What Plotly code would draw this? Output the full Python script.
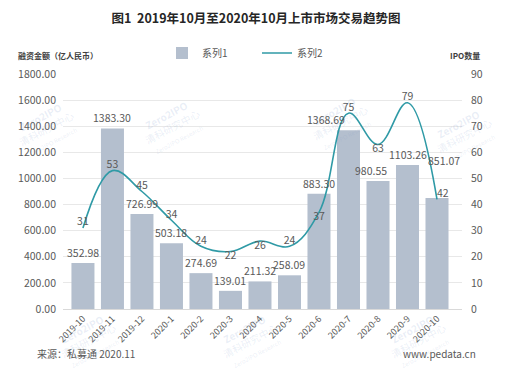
import plotly.graph_objects as go

categories = ["2019-10", "2019-11", "2019-12", "2020-1", "2020-2", "2020-3", "2020-4",
              "2020-5", "2020-6", "2020-7", "2020-8", "2020-9", "2020-10"]
amounts = [352.98, 1383.30, 726.99, 503.18, 274.69, 139.01, 211.32, 258.09,
           883.30, 1368.69, 980.55, 1103.26, 851.07]
ipo_counts = [31, 53, 45, 34, 24, 22, 26, 24, 37, 75, 63, 79, 42]

# label placement (style only)
line_label_pos = ["top center", "top center", "top center", "top center", "top center",
                  "bottom center", "bottom center", "top center", "bottom center",
                  "top center", "bottom center", "top center", "top right"]
bar_label_dx = [0, 0, 0, 0, 0, 0, 0, 0, 0, -22, -7, 0, 7]
bar_label_dy = [0, 0, 0, 0, 0, 0, 0, 0, 0, 0, 0, 0, 27]

FONT = "Noto Sans CJK SC, Noto Sans, sans-serif"
GRAY = "#595959"

# page body has an 8px default margin; lay the figure out in page pixel terms
OFF = 8
W, H = 509 - OFF, 375 - OFF
PL, PR, PT, PB = 63, 462, 74, 309          # plot area in page pixels
L, R, T, B = PL - OFF, W - (PR - OFF), PT - OFF, H - (PB - OFF)
pw, ph = W - L - R, H - T - B
def px(x): return (x - OFF - L) / pw
def py(y): return (H - B - (y - OFF)) / ph

fig = go.Figure()
fig.add_trace(go.Bar(
    x=categories, y=amounts, name="系列1",
    marker=dict(color="#B4BFCE", line=dict(width=0)),
))
fig.add_trace(go.Scatter(
    x=categories, y=ipo_counts, name="系列2", yaxis="y2",
    mode="lines+text", line=dict(color="#2F9AA6", width=1.6, shape="spline", smoothing=1.1),
    text=[str(v) for v in ipo_counts], textposition=line_label_pos,
    textfont=dict(size=10.5, color=GRAY, family=FONT),
    cliponaxis=False,
))

annotations = []
# faint watermarks
for (wx, wy) in [(46, 128), (172, 126), (340, 122), (464, 135), (88, 340), (250, 340), (418, 340)]:
    annotations.append(dict(
        text="<b>Zero2IPO</b><br>清科研究中心<br><span style='font-size:6px'>Zero2IPO Research</span>",
        x=px(wx), y=py(wy), xref="paper", yref="paper", showarrow=False, textangle=-28,
        font=dict(size=10, color="rgba(120,150,200,0.16)", family=FONT),
        xanchor="center", yanchor="middle"))

for c, v, dx, dy in zip(categories, amounts, bar_label_dx, bar_label_dy):
    annotations.append(dict(
        x=c, y=v, xref="x", yref="y", text=f"{v:.2f}", showarrow=False,
        xanchor="center", yanchor="bottom", xshift=dx, yshift=1 + dy,
        font=dict(size=10.5, color=GRAY, family=FONT)))

annotations += [
    dict(text="<b>融资金额（亿人民币）</b>", x=px(58), y=py(55), xref="paper", yref="paper",
         showarrow=False, xanchor="center", yanchor="middle",
         font=dict(size=8, color="#404040", family=FONT)),
    dict(text="<b>IPO数量</b>", x=px(465), y=py(55), xref="paper", yref="paper",
         showarrow=False, xanchor="center", yanchor="middle",
         font=dict(size=8, color="#404040", family=FONT)),
    dict(text="来源：私募通 2020.11", x=px(35), y=py(353), xref="paper", yref="paper",
         showarrow=False, xanchor="left", yanchor="middle",
         font=dict(size=10, color=GRAY, family=FONT)),
    dict(text="www.pedata.cn", x=px(478), y=py(353), xref="paper", yref="paper",
         showarrow=False, xanchor="right", yanchor="middle",
         font=dict(size=10, color=GRAY, family=FONT)),
]

fig.update_layout(
    width=W, height=H,
    margin=dict(l=L, r=R, t=T, b=B, autoexpand=False),
    paper_bgcolor="white", plot_bgcolor="white",
    font=dict(family=FONT, color=GRAY, size=10),
    bargap=0.22,
    title=dict(text="<b>图1  2019年10月至2020年10月上市市场交易趋势图</b>",
               x=(256 - OFF) / W, xanchor="center", y=1 - (19 - OFF) / H, yanchor="middle",
               font=dict(size=12.5, color="#262626", family=FONT)),
    legend=dict(orientation="h", x=px(162), xanchor="left", y=py(53), yanchor="middle",
                font=dict(size=10, color=GRAY, family=FONT), itemwidth=30,
                entrywidth=50, entrywidthmode="pixels",
                bgcolor="rgba(0,0,0,0)"),
    xaxis=dict(type="category", tickangle=-45, tickfont=dict(size=9, color=GRAY),
               showline=True, linecolor="#D9D9D9", ticks="", showgrid=False,
               automargin=False),
    yaxis=dict(range=[0, 1800], dtick=200, tickformat=".2f", gridcolor="#E8E8E8",
               zeroline=False, tickfont=dict(size=10.5, color=GRAY), ticks="",
               ticklabelstandoff=6, automargin=False),
    yaxis2=dict(range=[0, 90], dtick=10, overlaying="y", side="right", showgrid=False,
                zeroline=False, tickfont=dict(size=10.5, color=GRAY), ticks="",
                ticklabelstandoff=8, automargin=False),
    annotations=annotations,
)

fig.write_html("out.html")
